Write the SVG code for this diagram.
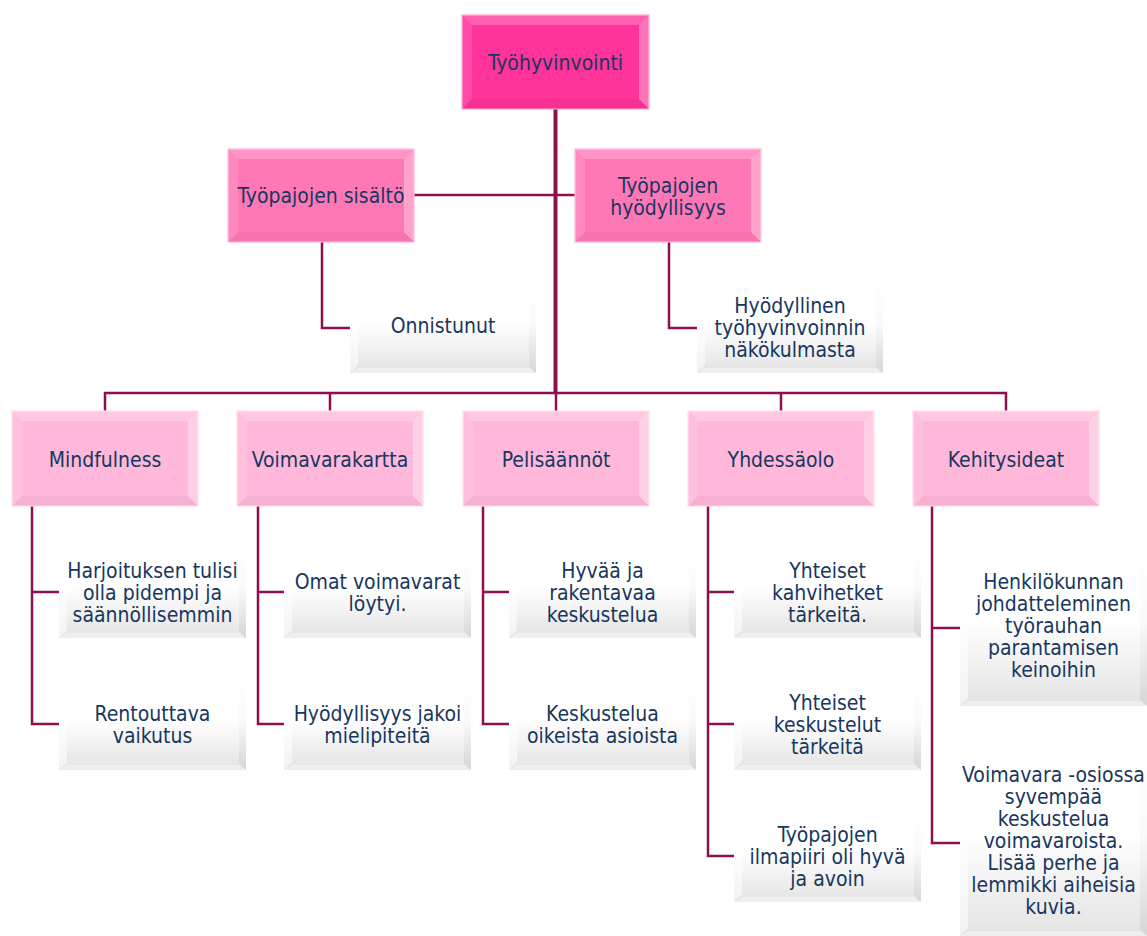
<svg xmlns="http://www.w3.org/2000/svg" xmlns:xlink="http://www.w3.org/1999/xlink" width="1147" height="936" viewBox="0 0 1147 936">
<style>
.t{font-family:"DejaVu Sans Condensed","DejaVu Sans",sans-serif;font-stretch:condensed;font-size:21px;fill:#17375E;text-anchor:middle}
.c{fill:none;stroke:#8E0F4F;stroke-width:2.5}
.trunk{fill:none;stroke:#8E0F4F;stroke-width:4}
.root{fill:#FF3399;stroke:#FFA3D1;stroke-width:1.2}
.l1{fill:#FF78B6;stroke:#FFB8DA;stroke-width:1.2}
.l2{fill:#FFB8DA;stroke:#FFDCEC;stroke-width:1.2}
.leaf{fill:url(#gLeaf)}
.bt{fill:#fff;opacity:.22}
.bl{fill:#fff;opacity:.12}
.br{fill:#fff;opacity:.32}
.bb{fill:#000;opacity:.035}
.ll{fill:#fff;opacity:.55}
.lr{fill:url(#gEdge)}
.lb{fill:#fff;opacity:.4}
</style>
<defs>
<linearGradient id="gLeaf" x1="0" y1="0" x2="0" y2="1">
<stop offset="0" stop-color="#ffffff"/>
<stop offset="0.45" stop-color="#ffffff"/>
<stop offset="1" stop-color="#e3e3e3"/>
</linearGradient>
<linearGradient id="gEdge" x1="0" y1="0" x2="0" y2="1">
<stop offset="0" stop-color="#ffffff"/>
<stop offset="0.45" stop-color="#fafafa"/>
<stop offset="1" stop-color="#d6d6d6"/>
</linearGradient>
<g id="bvRoot">
<polygon class="bt" points="0,0 187,0 177,10 10,10"/>
<polygon class="bl" points="0,0 10,10 10,84 0,94"/>
<polygon class="br" points="187,0 187,94 177,84 177,10"/>
<polygon class="bb" points="0,94 187,94 177,84 10,84"/>
</g>
<g id="bvL1">
<polygon class="bt" points="0,0 186,0 176,10 10,10"/>
<polygon class="bl" points="0,0 10,10 10,83 0,93"/>
<polygon class="br" points="186,0 186,93 176,83 176,10"/>
<polygon class="bb" points="0,93 186,93 176,83 10,83"/>
</g>
<g id="bvL2">
<polygon class="bt" points="0,0 186,0 176,10 10,10"/>
<polygon class="bl" points="0,0 10,10 10,85 0,95"/>
<polygon class="br" points="186,0 186,95 176,85 176,10"/>
<polygon class="bb" points="0,95 186,95 176,85 10,85"/>
</g>
<g id="bvLeafA">
<polygon class="ll" points="0,0 8,8 8,83 0,91"/>
<polygon class="lr" points="186,0 186,91 179,84 179,7"/>
<polygon class="lb" points="0,91 186,91 179,86 8,86"/>
</g>
<g id="bvLeaf">
<polygon class="ll" points="0,0 8,8 8,84 0,92"/>
<polygon class="lr" points="187,0 187,92 180,85 180,7"/>
<polygon class="lb" points="0,92 187,92 180,87 8,87"/>
</g>
<g id="bvK1">
<polygon class="ll" points="0,0 8,8 8,147 0,155"/>
<polygon class="lr" points="187,0 187,155 180,148 180,7"/>
<polygon class="lb" points="0,155 187,155 180,150 8,150"/>
</g>
<g id="bvK2">
<polygon class="ll" points="0,0 8,8 8,177 0,185"/>
<polygon class="lr" points="187,0 187,185 180,178 180,7"/>
<polygon class="lb" points="0,185 187,185 180,180 8,180"/>
</g>
</defs>

<g id="connectors">
<path class="trunk" d="M555.5,109 V393"/>
<path class="c" d="M414,195 H575"/>
<path class="c" d="M322,242 V328 H350"/>
<path class="c" d="M669,242 V328 H697"/>
<path class="c" d="M105,411 V393 H1006 V411"/>
<path class="c" d="M330,393 V411"/>
<path class="c" d="M556,393 V411"/>
<path class="c" d="M781,393 V411"/>
<path class="c" d="M32,506 V724 H59 M32,592 H59"/>
<path class="c" d="M258,506 V724 H284 M258,592 H284"/>
<path class="c" d="M483,506 V724 H509 M483,592 H509"/>
<path class="c" d="M708,506 V856 H734 M708,592 H734 M708,724 H734"/>
<path class="c" d="M932,506 V843 H960 M932,628 H960"/>
</g>

<g id="n-root">
<rect class="root" x="462" y="15" width="187" height="94"/>
<use xlink:href="#bvRoot" x="462" y="15"/>
<text class="t" x="555.5" y="69.5">Työhyvinvointi</text>
</g>

<g id="n-sisalto">
<rect class="l1" x="228" y="149" width="186" height="93"/>
<use xlink:href="#bvL1" x="228" y="149"/>
<text class="t" x="321" y="202.5">Työpajojen sisältö</text>
</g>
<g id="n-hyodyllisyys">
<rect class="l1" x="575" y="149" width="186" height="93"/>
<use xlink:href="#bvL1" x="575" y="149"/>
<text class="t" x="668" y="192.5"><tspan x="668">Työpajojen</tspan><tspan x="668" dy="22">hyödyllisyys</tspan></text>
</g>

<g id="n-onnistunut">
<rect class="leaf" x="350" y="282" width="186" height="91"/>
<use xlink:href="#bvLeafA" x="350" y="282"/>
<text class="t" x="443" y="333">Onnistunut</text>
</g>
<g id="n-hyodyllinen">
<rect class="leaf" x="697" y="282" width="186" height="91"/>
<use xlink:href="#bvLeafA" x="697" y="282"/>
<text class="t" x="790" y="312.5"><tspan x="790">Hyödyllinen</tspan><tspan x="790" dy="22">työhyvinvoinnin</tspan><tspan x="790" dy="22">näkökulmasta</tspan></text>
</g>

<g id="n-mindfulness">
<rect class="l2" x="12" y="411" width="186" height="95"/>
<use xlink:href="#bvL2" x="12" y="411"/>
<text class="t" x="105" y="466.5">Mindfulness</text>
</g>
<g id="n-voimavarakartta">
<rect class="l2" x="237" y="411" width="186" height="95"/>
<use xlink:href="#bvL2" x="237" y="411"/>
<text class="t" x="330" y="466.5">Voimavarakartta</text>
</g>
<g id="n-pelisaannot">
<rect class="l2" x="463" y="411" width="186" height="95"/>
<use xlink:href="#bvL2" x="463" y="411"/>
<text class="t" x="556" y="466.5">Pelisäännöt</text>
</g>
<g id="n-yhdessaolo">
<rect class="l2" x="688" y="411" width="186" height="95"/>
<use xlink:href="#bvL2" x="688" y="411"/>
<text class="t" x="781" y="466.5">Yhdessäolo</text>
</g>
<g id="n-kehitysideat">
<rect class="l2" x="913" y="411" width="186" height="95"/>
<use xlink:href="#bvL2" x="913" y="411"/>
<text class="t" x="1006" y="466.5">Kehitysideat</text>
</g>

<g id="n-harjoituksen">
<rect class="leaf" x="59" y="546" width="187" height="92"/>
<use xlink:href="#bvLeaf" x="59" y="546"/>
<text class="t" x="152.5" y="577.5"><tspan x="152.5">Harjoituksen tulisi</tspan><tspan x="152.5" dy="22">olla pidempi ja</tspan><tspan x="152.5" dy="22">säännöllisemmin</tspan></text>
</g>
<g id="n-rentouttava">
<rect class="leaf" x="59" y="678" width="187" height="92"/>
<use xlink:href="#bvLeaf" x="59" y="678"/>
<text class="t" x="152.5" y="720.5"><tspan x="152.5">Rentouttava</tspan><tspan x="152.5" dy="22">vaikutus</tspan></text>
</g>

<g id="n-omat">
<rect class="leaf" x="284" y="546" width="187" height="92"/>
<use xlink:href="#bvLeaf" x="284" y="546"/>
<text class="t" x="377.5" y="588.5"><tspan x="377.5">Omat voimavarat</tspan><tspan x="377.5" dy="22">löytyi.</tspan></text>
</g>
<g id="n-hyodyllisyysjakoi">
<rect class="leaf" x="284" y="678" width="187" height="92"/>
<use xlink:href="#bvLeaf" x="284" y="678"/>
<text class="t" x="377.5" y="720.5"><tspan x="377.5">Hyödyllisyys jakoi</tspan><tspan x="377.5" dy="22">mielipiteitä</tspan></text>
</g>

<g id="n-hyvaa">
<rect class="leaf" x="509" y="546" width="187" height="92"/>
<use xlink:href="#bvLeaf" x="509" y="546"/>
<text class="t" x="602.5" y="577.5"><tspan x="602.5">Hyvää ja</tspan><tspan x="602.5" dy="22">rakentavaa</tspan><tspan x="602.5" dy="22">keskustelua</tspan></text>
</g>
<g id="n-keskustelua">
<rect class="leaf" x="509" y="678" width="187" height="92"/>
<use xlink:href="#bvLeaf" x="509" y="678"/>
<text class="t" x="602.5" y="720.5"><tspan x="602.5">Keskustelua</tspan><tspan x="602.5" dy="22">oikeista asioista</tspan></text>
</g>

<g id="n-kahvihetket">
<rect class="leaf" x="734" y="546" width="187" height="92"/>
<use xlink:href="#bvLeaf" x="734" y="546"/>
<text class="t" x="827.5" y="577.5"><tspan x="827.5">Yhteiset</tspan><tspan x="827.5" dy="22">kahvihetket</tspan><tspan x="827.5" dy="22">tärkeitä.</tspan></text>
</g>
<g id="n-keskustelut">
<rect class="leaf" x="734" y="678" width="187" height="92"/>
<use xlink:href="#bvLeaf" x="734" y="678"/>
<text class="t" x="827.5" y="709.5"><tspan x="827.5">Yhteiset</tspan><tspan x="827.5" dy="22">keskustelut</tspan><tspan x="827.5" dy="22">tärkeitä</tspan></text>
</g>
<g id="n-ilmapiiri">
<rect class="leaf" x="734" y="810" width="187" height="92"/>
<use xlink:href="#bvLeaf" x="734" y="810"/>
<text class="t" x="827.5" y="841.5"><tspan x="827.5">Työpajojen</tspan><tspan x="827.5" dy="22">ilmapiiri oli hyvä</tspan><tspan x="827.5" dy="22">ja avoin</tspan></text>
</g>

<g id="n-henkilokunnan">
<rect class="leaf" x="960" y="551" width="187" height="155"/>
<use xlink:href="#bvK1" x="960" y="551"/>
<text class="t" x="1053.5" y="588.5"><tspan x="1053.5">Henkilökunnan</tspan><tspan x="1053.5" dy="22">johdatteleminen</tspan><tspan x="1053.5" dy="22">työrauhan</tspan><tspan x="1053.5" dy="22">parantamisen</tspan><tspan x="1053.5" dy="22">keinoihin</tspan></text>
</g>
<g id="n-voimavaraosio">
<rect class="leaf" x="960" y="751" width="187" height="185"/>
<use xlink:href="#bvK2" x="960" y="751"/>
<text class="t" x="1053.5" y="781.5"><tspan x="1053.5">Voimavara -osiossa</tspan><tspan x="1053.5" dy="22">syvempää</tspan><tspan x="1053.5" dy="22">keskustelua</tspan><tspan x="1053.5" dy="22">voimavaroista.</tspan><tspan x="1053.5" dy="22">Lisää perhe ja</tspan><tspan x="1053.5" dy="22">lemmikki aiheisia</tspan><tspan x="1053.5" dy="22">kuvia.</tspan></text>
</g>
</svg>
